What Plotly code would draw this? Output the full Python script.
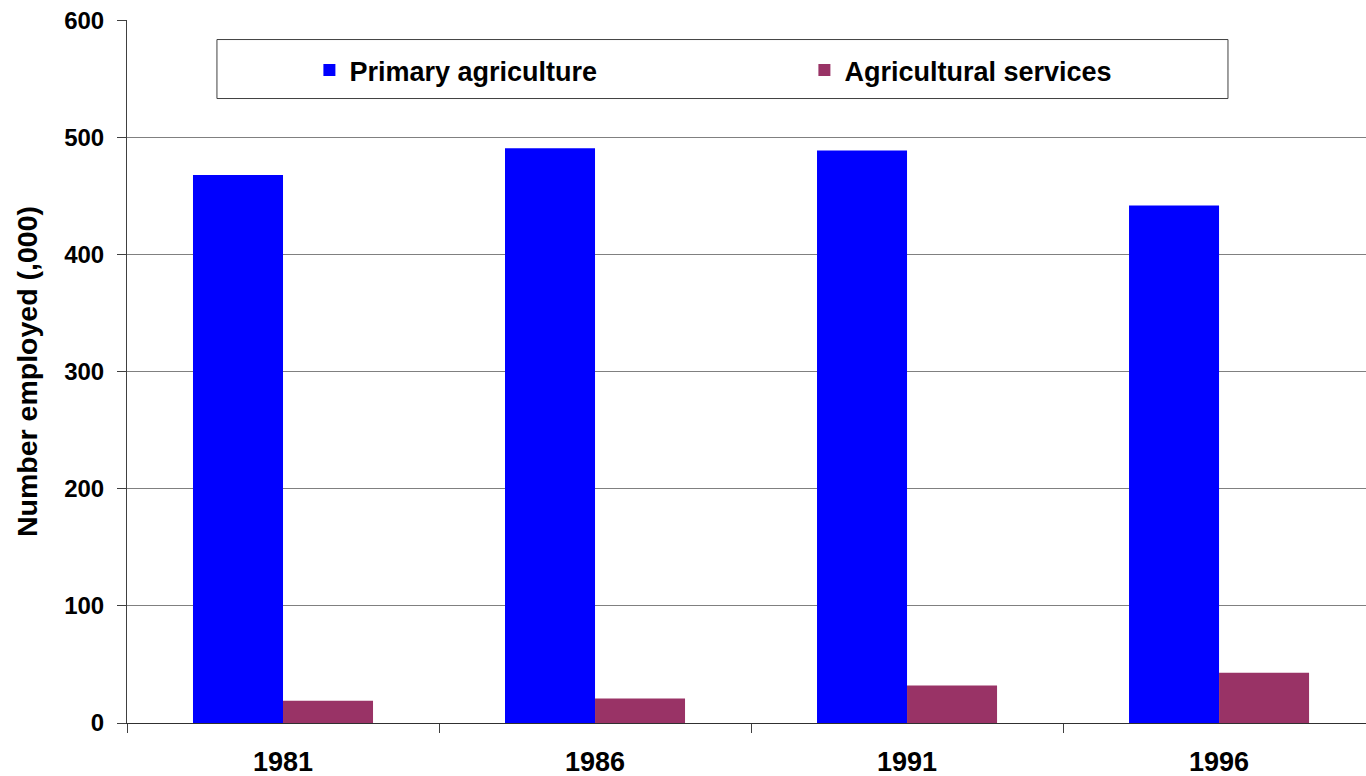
import plotly.graph_objects as go

# Employment in agriculture, thousands
years = ["1981", "1986", "1991", "1996"]
primary_agriculture = [468, 491, 489, 442]
agricultural_services = [19, 21, 32, 43]
y_ticks = [0, 100, 200, 300, 400, 500, 600]

FONT = "Liberation Sans, Arial, sans-serif"

fig = go.Figure()
fig.add_trace(go.Bar(
    x=years, y=primary_agriculture, name="Primary agriculture",
    marker=dict(color="#0000FF", line=dict(width=0)),
))
fig.add_trace(go.Bar(
    x=years, y=agricultural_services, name="Agricultural services",
    marker=dict(color="#993366", line=dict(width=0)),
))

# legend frame
fig.add_shape(
    type="rect", xref="paper", yref="paper",
    x0=0.0726, x1=0.8886, y0=0.8883, y1=0.9722,
    line=dict(color="#404040", width=1), fillcolor="white", layer="above",
)

fig.update_layout(
    width=1366, height=776,
    margin=dict(l=127, r=0, t=20, b=53, autoexpand=False),
    paper_bgcolor="white", plot_bgcolor="white",
    barmode="group", bargap=0.423, bargroupgap=0,
    font=dict(family=FONT, color="black", weight="bold"),
    showlegend=True,
    legend=dict(
        orientation="h", xref="container", yref="container",
        x=0.2265, y=1 - 46 / 776, xanchor="left", yanchor="top",
        bgcolor="rgba(0,0,0,0)", borderwidth=0,
        font=dict(family=FONT, size=27, color="black", weight="bold"),
        entrywidth=450, entrywidthmode="pixels",
        traceorder="normal",
    ),
    xaxis=dict(
        type="category", categoryorder="array", categoryarray=years,
        range=[-0.5, 3.471], tickson="boundaries",
        ticks="outside", ticklen=9, tickcolor="#404040", tickwidth=1,
        showline=True, linecolor="#303030", linewidth=1,
        showgrid=False, zeroline=False,
        tickfont=dict(family=FONT, size=27, color="black", weight="bold"),
        ticklabelstandoff=15,
    ),
    yaxis=dict(
        range=[0, 600.5], tickvals=y_ticks,
        ticks="outside", ticklen=9, tickcolor="#404040", tickwidth=1,
        showline=True, linecolor="#404040", linewidth=1,
        showgrid=True, gridcolor="#808080", gridwidth=1,
        zeroline=False,
        tickfont=dict(family=FONT, size=24, color="black", weight="bold"),
        ticklabelstandoff=8,
        title=dict(text="Number employed (,000)", standoff=18,
                   font=dict(family=FONT, size=28.5, color="black", weight="bold")),
    ),
)

fig.write_html("out.html")
